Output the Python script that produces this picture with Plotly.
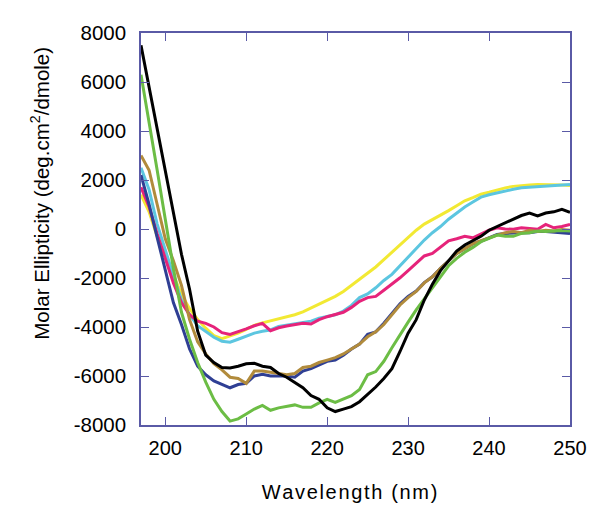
import plotly.graph_objects as go

wavelength = list(range(197, 251))

yellow = [1400, 700, -300, -1100, -1900, -2670, -3250, -3700, -4050, -4350,
          -4480, -4370, -4250, -4100, -3930, -3830, -3750, -3680, -3580, -3500,
          -3380, -3230, -3070, -2920, -2750, -2550, -2300, -2050, -1800, -1550,
          -1250, -950, -650, -350, -50, 200, 380, 550, 750, 950,
          1150, 1280, 1420, 1500, 1600, 1680, 1740, 1780, 1800, 1820,
          1820, 1820, 1800, 1780]

cyan = [2500, 1600, 200, -900, -1900, -2900, -3500, -3950, -4200, -4420,
        -4580, -4620, -4500, -4370, -4250, -4170, -4120, -3980, -3920, -3850,
        -3800, -3760, -3640, -3570, -3500, -3350, -3120, -2800, -2650, -2400,
        -2100, -1850, -1500, -1150, -760, -450, -150, 100, 400, 650,
        900, 1100, 1300, 1400, 1480, 1550, 1620, 1680, 1700, 1730,
        1760, 1780, 1800, 1820]

magenta = [1700, 900, -200, -1200, -2200, -3000, -3500, -3760, -3850, -4000,
           -4230, -4300, -4200, -4080, -3950, -3850, -4150, -4030, -3960, -3900,
           -3850, -3880, -3700, -3580, -3500, -3400, -3200, -2950, -2800, -2750,
           -2500, -2250, -1990, -1700, -1400, -1100, -1000, -750, -480, -400,
           -300, -360, -200, -50, 50, 0, -10, 50, 20, -10,
           190, 50, 100, 190]

navy = [2200, 1000, -350, -1700, -3000, -3900, -4900, -5600, -5950, -6200,
        -6350, -6480, -6350, -6300, -6000, -5930, -6000, -6000, -6000, -6050,
        -5800, -5700, -5550, -5400, -5350, -5150, -4900, -4700, -4300, -4200,
        -3850, -3450, -3050, -2750, -2530, -2190, -1950, -1600, -1300, -1000,
        -800, -600, -500, -350, -220, -180, -150, -150, -150, -100,
        -100, -120, -150, -180]

gold = [3000, 2400, 1000, -400, -1300, -2300, -3700, -4600, -5100, -5500,
        -5750, -6050, -6100, -6300, -5800, -5800, -5850, -5900, -5950, -5900,
        -5650, -5600, -5450, -5350, -5250, -5100, -4900, -4700, -4400, -4200,
        -3900, -3500, -3100, -2800, -2550, -2200, -1950, -1600, -1300, -1000,
        -800, -600, -480, -350, -250, -150, -100, -150, -50, -100,
        -50, -80, -20, -50]

green = [6300, 4400, 2400, 400, -1600, -3400, -4500, -5450, -6250, -6950,
         -7450, -7840, -7750, -7550, -7350, -7200, -7400, -7300, -7250, -7180,
         -7280, -7280, -7100, -6950, -7080, -6950, -6800, -6550, -5950, -5820,
         -5400, -4850, -4300, -3800, -3300, -2850, -2400, -1950, -1500, -1200,
         -950, -750, -520, -380, -250, -300, -300, -180, -150, -80,
         -100, -80, -60, -80]

black = [7500, 5800, 4100, 2400, 700, -1030, -2460, -4170, -5150, -5450,
         -5650, -5670, -5600, -5500, -5480, -5600, -5650, -5900, -6050, -6250,
         -6480, -6800, -6950, -7300, -7450, -7350, -7250, -7050, -6750, -6450,
         -6100, -5700, -5000, -4250, -3700, -2900, -2250, -1700, -1300, -900,
         -650, -480, -300, -50, 100, 250, 400, 550, 650, 530,
         650, 700, 800, 680]

x_ticks = [200, 210, 220, 230, 240, 250]
y_ticks = [-8000, -6000, -4000, -2000, 0, 2000, 4000, 6000, 8000]
y_tick_labels = ["-8000", "-6000", "-4000", "-2000", "0", "2000", "4000", "6000", "8000"]

x_title = "\u200aW\u200aa\u200av\u200ae\u200al\u200ae\u200an\u200ag\u200at\u200ah\u200a \u200a(\u200an\u200am\u200a)"
y_title = "Molar Ellipticity (deg.cm<sup>2</sup>/dmole)"

series = [
    ("yellow", yellow, "#f2e933"),
    ("cyan", cyan, "#5cc6e0"),
    ("magenta", magenta, "#e6237a"),
    ("navy", navy, "#2f3f94"),
    ("gold", gold, "#b18b3c"),
    ("green", green, "#6cbd45"),
    ("black", black, "#000000"),
]

fig = go.Figure()
for name, vals, col in series:
    fig.add_trace(go.Scatter(x=wavelength, y=vals, mode="lines", name=name,
                             line=dict(color=col, width=3), showlegend=False))

axis_col = "#5a5aa6"
FONT = "Liberation Sans, Arial, sans-serif"
fig.update_layout(
    width=602, height=524,
    margin=dict(l=133, r=40, t=25, b=107),
    paper_bgcolor="white", plot_bgcolor="white",
    font=dict(family=FONT, color="black", size=20),
    xaxis=dict(range=[197, 250], tickvals=x_ticks, ticks="inside", ticklen=8,
               tickcolor=axis_col, tickwidth=1, showline=True, linecolor=axis_col,
               linewidth=1.5, mirror="ticks", showgrid=False, zeroline=False,
               tickfont=dict(size=20), ticklabelstandoff=4),
    yaxis=dict(range=[-8000, 8000], tickvals=y_ticks, ticktext=y_tick_labels,
               ticks="inside", ticklen=8, tickcolor=axis_col, tickwidth=1,
               showline=True, linecolor=axis_col, linewidth=1.5, mirror="ticks",
               showgrid=False, zeroline=False, tickfont=dict(size=20.5),
               ticklabelstandoff=9),
    annotations=[
        dict(text=x_title, xref="paper", yref="paper", x=0.483, y=0,
             xanchor="center", yanchor="middle", yshift=-67, showarrow=False,
             font=dict(size=20)),
        dict(text=y_title, xref="paper", yref="paper", x=0, y=0.59,
             xanchor="center", yanchor="middle", xshift=-101, textangle=-90,
             showarrow=False, font=dict(size=20.5)),
    ],
)

fig.write_html("out.html")
